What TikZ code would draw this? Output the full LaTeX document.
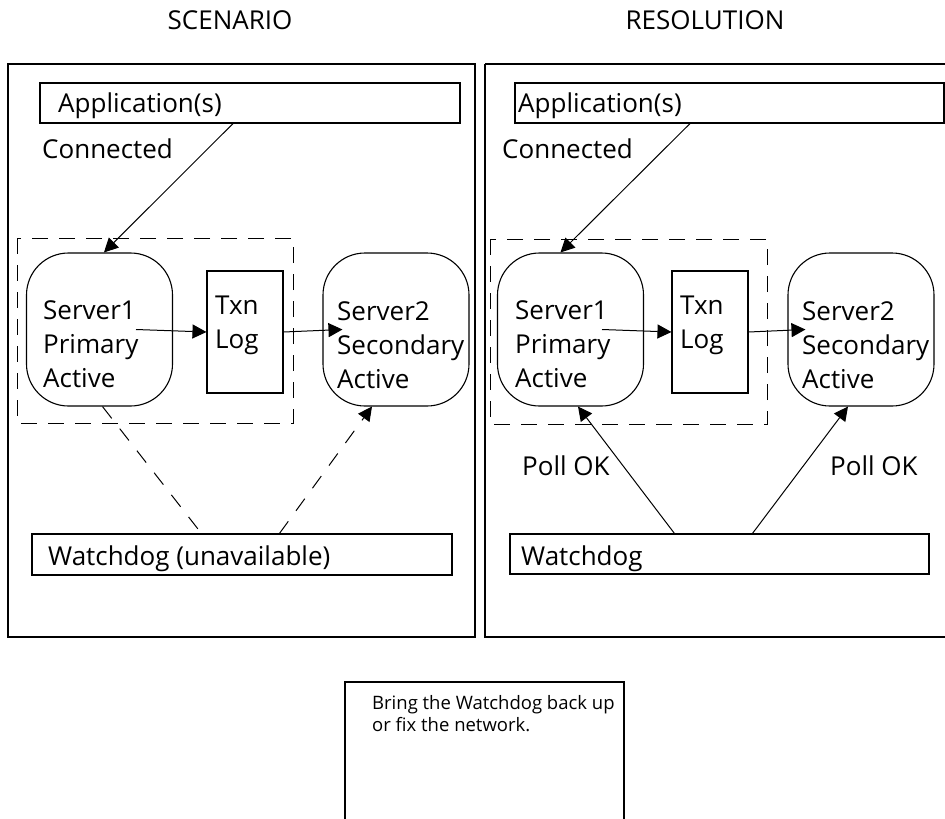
\documentclass[tikz,border=0pt]{standalone}
\usepackage{fontspec}
\setmainfont{Open Sans}
\usetikzlibrary{arrows.meta}
\begin{document}
\begin{tikzpicture}[x=1pt,y=-1pt,
  big/.style={font=\fontsize{26}{34}\selectfont,inner sep=0pt,align=left},
  small/.style={font=\fontsize{18.5}{22}\selectfont,inner sep=0pt,align=left},
  panel/.style={draw,line width=1.3pt},
  bar/.style={draw,line width=1.1pt,inner sep=0pt},
  server/.style={draw,line width=1.1pt,rounded corners=42pt,minimum width=146pt,minimum height=153pt,inner sep=0pt},
  txnbox/.style={draw,line width=1.1pt,minimum width=76pt,minimum height=122pt,inner sep=0pt},
  group/.style={draw,line width=1pt,dash pattern=on 16pt off 11pt},
  tip/.style={-{Triangle[length=14pt,width=14pt]}},
  conn/.style={line width=1pt,tip},
  dconn/.style={line width=1pt,dash pattern=on 15pt off 13pt},
]
\useasboundingbox (0,0) rectangle (945,819);
% titles
\node[big,anchor=base] (tL) at (230,29) {SCENARIO};
\node[big,anchor=base] (tR) at (705,29) {RESOLUTION};
% panels
\draw[panel] (8,64) rectangle (475,637);
\draw[panel] (485,64) -- (950,64);
\draw[panel] (485,64) -- (485,637) -- (950,637);

% ---------- LEFT ----------
\node[bar,minimum width=420pt,minimum height=40pt] (appL) at (250,103) {};
\node[big,anchor=base west] (appLt) at (58,112) {Application(s)};
\node[big,anchor=base west] (conL) at (42,158) {Connected};
\draw[group] (17,238) rectangle (293,423);
\node[server] (s1L) at (99.5,329.5) {};
\node[big,anchor=base west] (s1Lt) at (43,387) {Server1\\Primary\\Active};
\node[txnbox] (txL) at (245,332) {};
\node[big,anchor=base west] (txLt) at (215,348) {Txn\\Log};
\node[server] (s2L) at (396,329.5) {};
\node[big,anchor=base west] (s2Lt) at (337,388) {Server2\\Secondary\\Active};
\node[bar,minimum width=420pt,minimum height=41pt] (wdL) at (242,554.5) {};
\node[big,anchor=base west] (wdLt) at (48,565) {Watchdog (unavailable)};
\draw[conn] ([xshift=-17pt]appL.south) -- ([xshift=78pt]s1L.north west);
\draw[conn] ([xshift=36.5pt]s1L.center) -- (txL.west);
\draw[conn] (txL.east) -- ([xshift=20pt]s2L.west);
\draw[dconn] ([xshift=3pt]s1L.south) -- ([xshift=170pt]wdL.north west);
\draw[dconn,tip] ([xshift=248pt]wdL.north west) -- ([xshift=-24pt]s2L.south);

% ---------- RIGHT ----------
\node[bar,minimum width=429pt,minimum height=40pt] (appR) at (729.5,103) {};
\node[big,anchor=base west] (appRt) at (518,112) {Application(s)};
\node[big,anchor=base west] (conR) at (502,158) {Connected};
\draw[group] (490,239) rectangle (767,424);
\node[server] (s1R) at (570.5,329.5) {};
\node[big,anchor=base west] (s1Rt) at (515,387) {Server1\\Primary\\Active};
\node[txnbox] (txR) at (710,332) {};
\node[big,anchor=base west] (txRt) at (680,348) {Txn\\Log};
\node[server] (s2R) at (861,329.5) {};
\node[big,anchor=base west] (s2Rt) at (802,388) {Server2\\Secondary\\Active};
\node[bar,minimum width=419pt,minimum height=40pt] (wdR) at (719.5,554) {};
\node[big,anchor=base west] (wdRt) at (521,565) {Watchdog};
\draw[conn] ([xshift=-39.5pt]appR.south) -- ([xshift=-10pt]s1R.north);
\draw[conn] ([xshift=31.5pt]s1R.center) -- (txR.west);
\draw[conn] (txR.east) -- ([xshift=18pt]s2R.west);
\draw[conn] ([xshift=165pt]wdR.north west) -- ([xshift=7.5pt]s1R.south);
\draw[conn] ([xshift=243pt]wdR.north west) -- ([xshift=-13pt]s2R.south);
\node[big,anchor=base west] (pollL) at (522,475) {Poll OK};
\node[big,anchor=base west] (pollR) at (830,475) {Poll OK};

% ---------- NOTE ----------
\draw[line width=1.1pt] (345,830) -- (345,682) -- (624,682) -- (624,830);
\node[small,anchor=base west] (note) at (372,731) {Bring the Watchdog back up\\or fix the network.};
\end{tikzpicture}
\end{document}
